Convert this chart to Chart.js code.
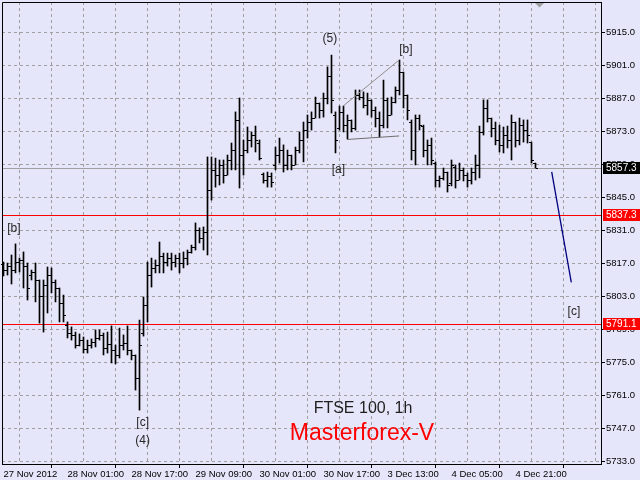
<!DOCTYPE html>
<html>
<head>
<meta charset="utf-8">
<script src="https://cdn.jsdelivr.net/npm/chart.js@4.4.0/dist/chart.umd.min.js"></script>
<style>
  html, body { margin: 0; padding: 0; background: #E6E6FA; }
  #wrap { width: 640px; height: 480px; }
</style>
</head>
<body>
<div id="wrap"><canvas id="ftse" width="640" height="480"></canvas></div>
<script>
// FTSE 100, 1h bars (27 Nov 2012 .. 4 Dec 2012)
const opens = [
  5816.6, 5814.0, 5815.7, 5814.0, 5817.4, 5818.3, 5815.7, 5811.9, 5813.2, 5809.8,
  5803.0, 5807.7, 5811.9, 5808.9, 5806.4, 5800.0, 5790.7, 5787.3, 5786.5, 5782.2,
  5784.3, 5780.5, 5782.2, 5783.5, 5785.2, 5786.5, 5780.9, 5782.6, 5780.1, 5778.0,
  5782.2, 5783.1, 5780.1, 5778.0, 5768.2, 5787.3, 5799.2, 5811.9, 5814.9, 5816.2,
  5820.0, 5817.4, 5819.1, 5817.4, 5819.1, 5817.0, 5819.1, 5821.7, 5823.8, 5831.0,
  5827.6, 5830.2, 5848.0, 5856.5, 5854.3, 5858.6, 5854.3, 5860.7, 5864.9, 5877.7,
  5862.8, 5864.9, 5869.2, 5871.3, 5867.9, 5854.8, 5852.2, 5853.9, 5858.6, 5862.8,
  5864.9, 5858.6, 5862.8, 5858.6, 5864.9, 5869.2, 5873.4, 5876.8, 5878.5, 5884.9,
  5881.9, 5887.0, 5896.3, 5879.8, 5874.3, 5881.1, 5875.5, 5877.7, 5874.3, 5888.3,
  5887.4, 5884.0, 5886.2, 5881.9, 5878.5, 5875.5, 5886.2, 5879.8, 5885.3, 5890.4,
  5898.0, 5888.3, 5876.8, 5864.9, 5878.5, 5875.1, 5864.9, 5867.1, 5859.4, 5852.2,
  5853.1, 5855.6, 5850.9, 5857.7, 5852.2, 5856.5, 5854.3, 5852.2, 5855.6, 5858.6,
  5872.6, 5882.8, 5878.5, 5874.3, 5869.2, 5867.1, 5871.3, 5869.2, 5876.8, 5869.2,
  5875.5, 5873.4, 5868.3, 5859.4
];
const highs = [
  5817.4, 5817.0, 5820.4, 5825.1, 5819.1, 5821.7, 5817.0, 5814.0, 5817.0, 5809.8,
  5809.8, 5815.3, 5814.9, 5809.8, 5806.4, 5803.4, 5792.0, 5789.9, 5787.7, 5786.9,
  5785.6, 5784.3, 5784.8, 5788.6, 5788.6, 5787.3, 5787.7, 5790.3, 5782.2, 5789.4,
  5786.5, 5790.3, 5780.1, 5778.0, 5792.8, 5802.6, 5817.4, 5819.1, 5818.3, 5825.9,
  5821.2, 5821.2, 5821.2, 5820.4, 5821.2, 5821.7, 5822.5, 5824.6, 5834.0, 5831.9,
  5832.3, 5862.0, 5862.0, 5861.5, 5860.7, 5860.7, 5862.8, 5867.9, 5881.1, 5887.0,
  5869.2, 5874.7, 5872.6, 5875.1, 5869.2, 5855.2, 5855.6, 5855.2, 5866.2, 5870.0,
  5867.1, 5864.9, 5862.8, 5866.2, 5872.6, 5876.8, 5879.8, 5881.1, 5887.4, 5884.9,
  5889.1, 5900.2, 5905.2, 5881.1, 5883.6, 5883.6, 5879.8, 5877.7, 5890.4, 5890.4,
  5889.6, 5889.1, 5886.2, 5883.2, 5881.1, 5894.6, 5887.0, 5887.4, 5891.7, 5903.1,
  5898.0, 5888.3, 5877.7, 5879.8, 5879.8, 5875.5, 5869.2, 5870.0, 5859.9, 5853.9,
  5857.3, 5855.6, 5860.7, 5858.6, 5859.4, 5857.3, 5855.2, 5857.3, 5862.8, 5875.1,
  5886.2, 5886.2, 5878.5, 5876.8, 5875.5, 5874.7, 5875.1, 5879.8, 5876.8, 5878.5,
  5877.7, 5877.7, 5868.3, 5859.4
];
const lows = [
  5811.5, 5811.9, 5808.1, 5812.8, 5813.2, 5806.4, 5801.3, 5809.8, 5800.5, 5791.5,
  5787.7, 5795.8, 5804.3, 5800.5, 5792.0, 5792.0, 5785.2, 5784.3, 5780.9, 5781.8,
  5778.8, 5778.8, 5780.9, 5781.4, 5784.3, 5778.0, 5778.8, 5774.6, 5774.2, 5776.7,
  5780.1, 5778.0, 5775.9, 5763.1, 5754.6, 5786.0, 5792.0, 5806.8, 5812.8, 5812.8,
  5812.8, 5815.7, 5814.0, 5815.3, 5812.8, 5814.9, 5816.2, 5821.2, 5822.5, 5825.5,
  5822.5, 5820.4, 5843.7, 5849.2, 5850.1, 5850.9, 5854.3, 5856.5, 5856.5, 5848.8,
  5854.3, 5863.7, 5866.2, 5864.1, 5860.7, 5850.9, 5849.2, 5849.2, 5856.5, 5859.4,
  5855.6, 5856.5, 5856.5, 5858.6, 5863.7, 5859.9, 5870.0, 5873.4, 5878.5, 5878.5,
  5878.9, 5884.5, 5880.6, 5863.7, 5873.4, 5872.6, 5869.6, 5872.6, 5873.4, 5886.2,
  5882.8, 5879.8, 5878.9, 5874.7, 5870.5, 5874.3, 5874.3, 5879.8, 5884.9, 5888.3,
  5882.8, 5877.7, 5860.7, 5858.6, 5873.4, 5862.0, 5858.6, 5858.6, 5849.2, 5849.2,
  5852.2, 5847.1, 5849.7, 5848.8, 5852.2, 5851.8, 5849.2, 5850.5, 5852.2, 5853.1,
  5871.3, 5876.8, 5870.5, 5867.1, 5864.1, 5863.7, 5865.8, 5860.7, 5866.2, 5867.1,
  5868.3, 5867.9, 5859.4, 5857.3
];
const closes = [
  5814.0, 5815.7, 5814.0, 5817.4, 5818.3, 5815.7, 5806.4, 5813.2, 5809.8, 5803.0,
  5807.7, 5811.9, 5808.9, 5806.4, 5800.0, 5794.9, 5787.3, 5786.5, 5782.2, 5784.3,
  5780.5, 5782.2, 5783.5, 5785.2, 5786.5, 5780.9, 5782.6, 5780.1, 5778.0, 5782.2,
  5783.1, 5780.1, 5778.0, 5768.2, 5782.2, 5799.2, 5811.9, 5814.9, 5816.2, 5820.0,
  5817.4, 5819.1, 5817.4, 5819.1, 5817.0, 5819.1, 5821.7, 5823.8, 5831.0, 5827.6,
  5830.2, 5848.0, 5856.5, 5854.3, 5858.6, 5854.3, 5860.7, 5864.9, 5877.7, 5862.8,
  5864.9, 5869.2, 5871.3, 5869.2, 5861.5, 5852.2, 5853.9, 5851.4, 5862.8, 5864.9,
  5858.6, 5862.8, 5858.6, 5864.9, 5869.2, 5873.4, 5876.8, 5878.5, 5884.9, 5881.9,
  5887.0, 5896.3, 5886.2, 5869.2, 5881.1, 5875.5, 5877.7, 5874.3, 5888.3, 5887.4,
  5884.0, 5886.2, 5881.9, 5878.5, 5875.5, 5886.2, 5879.8, 5885.3, 5890.4, 5898.0,
  5888.3, 5881.9, 5864.9, 5878.5, 5875.5, 5864.9, 5867.1, 5860.7, 5852.2, 5853.1,
  5855.6, 5850.1, 5858.6, 5852.2, 5856.5, 5854.3, 5852.2, 5855.6, 5858.6, 5872.6,
  5882.8, 5878.5, 5874.3, 5869.2, 5867.1, 5871.3, 5869.2, 5876.8, 5869.2, 5875.5,
  5873.4, 5871.3, 5860.7, 5857.3
];

const timeTicks = [0, 16, 32, 48, 64, 80, 96, 112, 128];
const timeLabels = ['27 Nov 2012', '28 Nov 01:00', '28 Nov 17:00', '29 Nov 09:00', '30 Nov 01:00',
                    '30 Nov 17:00', '3 Dec 13:00', '4 Dec 05:00', '4 Dec 21:00'];
const priceTicks = [5733, 5747, 5761, 5775, 5789, 5803, 5817, 5831, 5845, 5859, 5873, 5887, 5901, 5915];

// horizontal levels: bid line + two red levels
const levelPrices = [5857.3, 5837.3, 5791.1];
const levelLineColors = ['#A0A0A0', '#FF0000', '#FF0000'];
const levelTagColors = ['#000000', '#FF0000', '#FF0000'];

// drawn lines (bar index, price)
const upperLineX = [84.9, 98.9];
const upperLineY = [5883.6, 5903.1];
const lowerLineX = [85.9, 98.9];
const lowerLineY = [5869.4, 5870.9];
const forecastX = [137.05, 141.95];
const forecastY = [5855.7, 5808.8];

// wave marks
const waveText = ['(5)', '[b]', '[a]', '[b]', '[c]', '(4)', '[c]'];
const waveX = [81.6, 100.6, 83.7, 2.6, 34.8, 34.8, 142.6];
const waveY = [5912.0, 5907.4, 5856.5, 5831.6, 5749.3, 5741.7, 5796.4];

const FONT = 'Liberation Sans, Arial, sans-serif';

const gridTicks = [];
for (let k = 0; k <= 144; k += 8) gridTicks.push(k);

const toPts = (xs, ys) => xs.map((x, i) => ({ x: x, y: ys[i] }));

const bgPlugin = {
    id: 'bg',
    beforeDraw(chart) {
        const c = chart.ctx;
        c.save();
        c.fillStyle = '#E6E6FA';
        c.fillRect(0, 0, chart.width, chart.height);
        c.restore();
    }
};

const levelPlugin = {
    id: 'levels',
    beforeDatasetsDraw(chart) {
        const { ctx, chartArea, scales: { y } } = chart;
        ctx.save();
        ctx.lineWidth = 1;
        levelPrices.forEach((p, i) => {
            const py = Math.round(y.getPixelForValue(p)) + 0.5;
            ctx.strokeStyle = levelLineColors[i];
            ctx.beginPath();
            ctx.moveTo(chartArea.left, py);
            ctx.lineTo(chartArea.right, py);
            ctx.stroke();
        });
        ctx.restore();
    },
    afterDraw(chart) {
        const { ctx, chartArea, scales: { y } } = chart;
        ctx.save();
        // frame (top + left; right/bottom come from the axes)
        ctx.strokeStyle = '#000';
        ctx.lineWidth = 1;
        ctx.beginPath();
        ctx.moveTo(chartArea.left + 0.5, chartArea.bottom);
        ctx.lineTo(chartArea.left + 0.5, chartArea.top + 0.5);
        ctx.lineTo(chartArea.right, chartArea.top + 0.5);
        ctx.stroke();
        // price tags on the right axis
        ctx.font = '10px ' + FONT;
        ctx.textBaseline = 'middle';
        ctx.textAlign = 'left';
        levelPrices.forEach((p, i) => {
            const py = Math.round(y.getPixelForValue(p));
            ctx.fillStyle = levelTagColors[i];
            ctx.fillRect(chartArea.right + 2, py - 6, chart.width - chartArea.right - 2, 12);
            ctx.fillStyle = '#FFFFFF';
            ctx.fillText(p.toFixed(1), chartArea.right + 5, py + 0.5);
        });
        ctx.restore();
    }
};

const ohlcPlugin = {
    id: 'ohlcTicks',
    afterDatasetsDraw(chart) {
        const { ctx, scales: { x, y } } = chart;
        ctx.save();
        ctx.fillStyle = '#000';
        for (let i = 0; i < opens.length; i++) {
            const col = Math.floor(x.getPixelForValue(i));
            ctx.fillRect(col - 2, Math.round(y.getPixelForValue(opens[i])), 2, 1);
            ctx.fillRect(col + 1, Math.round(y.getPixelForValue(closes[i])), 2, 1);
        }
        // wave labels
        ctx.font = '12px ' + FONT;
        ctx.fillStyle = '#262626';
        ctx.textAlign = 'center';
        ctx.textBaseline = 'middle';
        waveText.forEach((t, i) => {
            ctx.fillText(t, x.getPixelForValue(waveX[i]), y.getPixelForValue(waveY[i]));
        });
        // chart caption
        ctx.font = '16px ' + FONT;
        ctx.fillStyle = '#1E1E1E';
        ctx.fillText('FTSE 100, 1h', 363, 409);
        ctx.font = '23px ' + FONT;
        ctx.fillStyle = '#FF0000';
        ctx.fillText('Masterforex-V', 362, 434);
        // shift marker
        ctx.fillStyle = '#A0A0A0';
        ctx.beginPath();
        ctx.moveTo(535, 3);
        ctx.lineTo(544, 3);
        ctx.lineTo(539.5, 7.5);
        ctx.closePath();
        ctx.fill();
        ctx.restore();
    }
};

new Chart(document.getElementById('ftse'), {
    type: 'bar',
    data: {
        datasets: [
            {
                type: 'line',
                data: toPts(forecastX, forecastY),
                borderColor: '#000080',
                borderWidth: 1.3,
                pointRadius: 0,
            },
            {
                type: 'line',
                data: toPts(upperLineX, upperLineY),
                borderColor: '#8C8C8C',
                borderWidth: 1,
                pointRadius: 0,
            },
            {
                type: 'line',
                data: toPts(lowerLineX, lowerLineY),
                borderColor: '#6E6E6E',
                borderWidth: 1,
                pointRadius: 0,
            },
            {
                type: 'bar',
                data: highs.map((h, i) => ({ x: i, y: [lows[i], h] })),
                backgroundColor: '#000000',
                borderWidth: 0,
                barThickness: 1,
            },
        ],
    },
    options: {
        responsive: false,
        animation: false,
        events: [],
        layout: { padding: { left: 2, top: 2, right: 0, bottom: 0 } },
        plugins: {
            legend: { display: false },
            title: { display: false },
            tooltip: { enabled: false },
        },
        scales: {
            x: {
                type: 'linear',
                min: -0.375,
                max: 149.375,
                offset: false,
                afterBuildTicks: (scale) => {
                    scale.ticks = gridTicks.map((v) => ({ value: v }));
                },
                afterFit: (scale) => {
                    scale.height = 16;
                    scale.paddingLeft = 0;
                    scale.paddingRight = 0;
                },
                ticks: {
                    autoSkip: false,
                    maxRotation: 0,
                    minRotation: 0,
                    align: 'start',
                    padding: 1,
                    color: '#000',
                    font: { family: FONT, size: 9.5 },
                    callback: (v) => {
                        const k = timeTicks.indexOf(v);
                        return k >= 0 ? timeLabels[k] : '';
                    },
                },
                grid: {
                    color: (c) => (c.index === 0 ? 'rgba(0,0,0,0)' : '#A0A0A0'),
                    lineWidth: 1,
                    tickLength: 4,
                    tickColor: (c) => (c.index % 2 === 0 ? '#000' : 'rgba(0,0,0,0)'),
                },
                border: { color: '#000', width: 1, dash: [3, 3] },
            },
            y: {
                position: 'right',
                min: 5731.73,
                max: 5927.73,
                afterBuildTicks: (scale) => {
                    scale.ticks = priceTicks.map((v) => ({ value: v }));
                },
                afterFit: (scale) => {
                    scale.width = 39;
                    scale.paddingTop = 0;
                    scale.paddingBottom = 0;
                },
                ticks: {
                    padding: 1,
                    color: '#000',
                    font: { family: FONT, size: 9.5 },
                    callback: (v) => Number(v).toFixed(1),
                },
                grid: {
                    color: '#A0A0A0',
                    lineWidth: 1,
                    tickLength: 4,
                    tickColor: '#000',
                },
                border: { color: '#000', width: 1, dash: [3, 3] },
            },
        },
    },
    plugins: [bgPlugin, levelPlugin, ohlcPlugin],
});
</script>
</body>
</html>
